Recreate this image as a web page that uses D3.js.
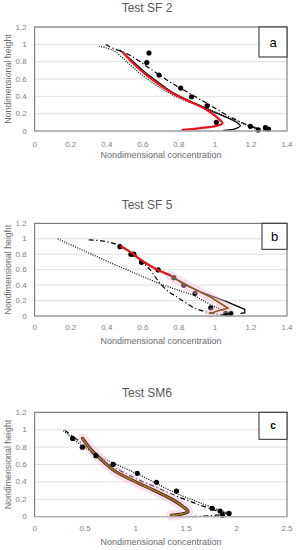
<!DOCTYPE html>
<html>
<head>
<meta charset="utf-8">
<script src="https://cdn.jsdelivr.net/npm/d3@7"></script>
<style>
  html, body { margin: 0; padding: 0; background: #fff; }
  svg { display: block; font-family: "Liberation Sans", Arial, sans-serif; }
</style>
</head>
<body>
<div id="chart"></div>
<script>
// ---- data ----
const yTicks = [0, 0.2, 0.4, 0.6, 0.8, 1, 1.2];
const xTicksSF = [0, 0.2, 0.4, 0.6, 0.8, 1, 1.2, 1.4];
const xTicksSM = [0, 0.5, 1, 1.5, 2, 2.5];

// Test SF 2
const sf2Dots = [[0.634, 0.9], [0.622, 0.79], [0.69, 0.645], [0.81, 0.495], [0.87, 0.395],
  [0.957, 0.29], [1.008, 0.1], [1.197, 0.054], [1.24, 0.012], [1.28, 0.04], [1.297, 0.022]];
const sf2Red = [[0.491, 0.905], [0.547, 0.778], [0.621, 0.644], [0.695, 0.529], [0.768, 0.433],
  [0.842, 0.356], [0.916, 0.287], [0.971, 0.222], [1.018, 0.146], [1.042, 0.09], [1.005, 0.058],
  [0.93, 0.036], [0.82, 0.012]];
const sf2Black = [[0.473, 0.932], [0.547, 0.798], [0.621, 0.663], [0.695, 0.548], [0.768, 0.441],
  [0.842, 0.364], [0.916, 0.295], [0.99, 0.222], [1.064, 0.157], [1.119, 0.1], [1.141, 0.06],
  [1.115, 0.027], [1.08, 0.012], [1.049, 0.008]];
const sf2Dotted = [[0.356, 0.978], [0.436, 0.93], [0.51, 0.8], [0.584, 0.665], [0.658, 0.55],
  [0.731, 0.455], [0.805, 0.376], [0.879, 0.318], [0.953, 0.261], [1.027, 0.2], [1.1, 0.134],
  [1.174, 0.069], [1.23, 0.02]];
const sf2DashDot = [[0.395, 0.997], [0.417, 0.97], [0.528, 0.874], [0.639, 0.721], [0.75, 0.567],
  [0.861, 0.433], [0.972, 0.299], [1.082, 0.165], [1.193, 0.06], [1.286, 0.0]];

// Test SF 5
const sf5Dots = [[0.473, 0.898], [0.534, 0.798], [0.55, 0.8], [0.593, 0.695], [0.685, 0.596],
  [0.772, 0.496], [0.827, 0.397], [0.89, 0.293], [0.977, 0.104], [1.06, 0.035], [1.088, 0.035]];
const sf5Red = [[0.48, 0.9], [0.53, 0.83], [0.57, 0.76], [0.62, 0.68], [0.68, 0.6], [0.75, 0.53]];
const sf5Brown = [[0.75, 0.53], [0.79, 0.47], [0.879, 0.358], [0.972, 0.25], [1.045, 0.142],
  [1.073, 0.1], [1.027, 0.075], [0.99, 0.045], [0.97, 0.035]];
const sf5Black = [[0.48, 0.9], [0.55, 0.8], [0.6, 0.7], [0.68, 0.6], [0.77, 0.5], [0.82, 0.42],
  [0.917, 0.315], [1.064, 0.185], [1.166, 0.087], [1.166, 0.042], [1.145, 0.033]];
const sf5Dotted = [[0.127, 1.0], [0.4, 0.71], [0.7, 0.41], [0.88, 0.27], [0.99, 0.13], [1.05, 0.07]];
const sf5DashDot = [[0.3, 0.985], [0.38, 0.97], [0.45, 0.93], [0.52, 0.85], [0.58, 0.73],
  [0.64, 0.6], [0.68, 0.47], [0.73, 0.34], [0.8, 0.23], [0.9, 0.09], [1.0, 0.03], [1.08, 0.0]];

// Test SM6
const sm6Dots = [[0.376, 0.9], [0.472, 0.798], [0.607, 0.702], [0.778, 0.602], [1.016, 0.498],
  [1.207, 0.395], [1.405, 0.295], [1.758, 0.096], [1.837, 0.065], [1.86, 0.019], [1.926, 0.038]];
const sm6Brown = [[0.475, 0.9], [0.547, 0.786], [0.646, 0.671], [0.778, 0.537], [0.976, 0.414],
  [1.174, 0.307], [1.372, 0.192], [1.471, 0.115], [1.52, 0.058], [1.438, 0.027], [1.355, 0.015]];
const sm6Dotted = [[0.284, 0.989], [0.482, 0.805], [0.646, 0.69], [1.042, 0.479], [1.405, 0.268],
  [1.768, 0.104], [1.933, 0.038]];
const sm6DashDot = [[0.3, 0.99], [0.45, 0.86], [0.6, 0.7], [0.8, 0.56], [1.0, 0.44], [1.2, 0.34],
  [1.4, 0.24], [1.6, 0.15], [1.8, 0.07], [1.9, 0.035], [1.75, 0.012], [1.5, 0.0]];

const W = 297, H = 550;
const svg = d3.select("#chart").append("svg").attr("width", W).attr("height", H);

const panels = [
  { title: "Test SF 2", letter: "a", top: 27, bottom: 131, titleY: 8, xTickY: 144, xTitleY: 155,
    xMax: 1.4, xTicks: xTicksSF, box: [259, 27, 28, 30],
    series: [
      { data: sf2Dotted, stroke: "#000", width: 1.2, dash: "1,1.4" },
      { data: sf2DashDot, stroke: "#000", width: 1.2, dash: "5,2.5,1.2,2.5" },
      { data: sf2Black, stroke: "#000", width: 1.3 },
      { data: sf2Red, stroke: "#e8141c", width: 2.2 }
    ], dots: sf2Dots },
  { title: "Test SF 5", letter: "b", top: 223.3, bottom: 316, titleY: 205, xTickY: 327, xTitleY: 341,
    xMax: 1.4, xTicks: xTicksSF, box: [262, 223.3, 25, 26],
    series: [
      { data: sf5Dotted, stroke: "#000", width: 1.2, dash: "1,1.4", linear: true },
      { data: sf5DashDot, stroke: "#000", width: 1.2, dash: "5,2.5,1.2,2.5" },
      { data: sf5Black, stroke: "#000", width: 1.3, linear: true },
      { data: sf5Brown, stroke: "#f5b8d6", width: 9, opacity: 0.45, linear: true },
      { data: sf5Red, stroke: "#e8141c", width: 2.2 },
      { data: sf5Brown, stroke: "#8a5a1e", width: 1.6, linear: true }
    ], dots: sf5Dots, dotsUnderHaze: true },
  { title: "Test SM6", letter: "c", top: 412.3, bottom: 516.7, titleY: 393, xTickY: 528.5, xTitleY: 542,
    xMax: 2.5, xTicks: xTicksSM, box: [259, 412.3, 28, 27],
    series: [
      { data: sm6Dotted, stroke: "#000", width: 1.2, dash: "1,1.4" },
      { data: sm6DashDot, stroke: "#000", width: 1.2, dash: "5,2.5,1.2,2.5" },
      { data: sm6Brown, stroke: "#f5b8d6", width: 10, opacity: 0.45 },
      { data: sm6Brown, stroke: "#3a2410", width: 3.2 },
      { data: sm6Brown, stroke: "#a8702e", width: 1.8 }
    ], dots: sm6Dots }
];

const left = 34.7, right = 287;

panels.forEach(p => {
  const g = svg.append("g");
  const x = d3.scaleLinear().domain([0, p.xMax]).range([left, right]);
  const y = d3.scaleLinear().domain([0, 1.2]).range([p.bottom, p.top]);

  // title
  g.append("text").attr("x", 147).attr("y", p.titleY).attr("text-anchor", "middle")
    .attr("dominant-baseline", "central").attr("font-size", 12).attr("fill", "#595959")
    .text(p.title);

  // gridlines
  g.append("g").selectAll("line").data(yTicks).enter().append("line")
    .attr("x1", left).attr("x2", right)
    .attr("y1", d => y(d)).attr("y2", d => y(d))
    .attr("stroke", "#d9d9d9").attr("stroke-width", 0.8);

  // y tick labels
  g.append("g").selectAll("text").data(yTicks).enter().append("text")
    .attr("x", 26.7).attr("y", d => y(d)).attr("text-anchor", "end")
    .attr("dominant-baseline", "central").attr("font-size", 8).attr("fill", "#7f7f7f")
    .text(d => d);

  // x tick labels
  g.append("g").selectAll("text").data(p.xTicks).enter().append("text")
    .attr("x", d => x(d)).attr("y", p.xTickY).attr("text-anchor", "middle")
    .attr("dominant-baseline", "central").attr("font-size", 8).attr("fill", "#7f7f7f")
    .text(d => d);

  // axis titles
  g.append("text").attr("x", 161).attr("y", p.xTitleY).attr("text-anchor", "middle")
    .attr("dominant-baseline", "central").attr("font-size", 9).attr("fill", "#6a6a6a")
    .text("Nondimensional concentration");
  g.append("text").attr("transform", `translate(8.3,${(p.top + p.bottom) / 2}) rotate(-90)`)
    .attr("text-anchor", "middle").attr("dominant-baseline", "central")
    .attr("font-size", 8.8).attr("fill", "#6a6a6a").text("Nondimensional height");

  const dotLayer = () => g.append("g").selectAll("circle").data(p.dots).enter().append("circle")
    .attr("cx", d => x(d[0])).attr("cy", d => y(d[1])).attr("r", 2.6).attr("fill", "#000");

  if (p.dotsUnderHaze) dotLayer();

  // series
  p.series.forEach(s => {
    const line = d3.line().x(d => x(d[0])).y(d => y(d[1]))
      .curve(s.linear ? d3.curveLinear : d3.curveCatmullRom.alpha(0.5));
    g.append("path").datum(s.data).attr("d", line)
      .attr("fill", "none").attr("stroke", s.stroke).attr("stroke-width", s.width)
      .attr("stroke-dasharray", s.dash || null).attr("stroke-opacity", s.opacity || 1)
      .attr("stroke-linejoin", "round").attr("stroke-linecap", s.dash ? "butt" : "round");
  });

  if (!p.dotsUnderHaze) dotLayer();

  // plot frame
  g.append("rect").attr("x", left).attr("y", p.top).attr("width", right - left)
    .attr("height", p.bottom - p.top).attr("fill", "none")
    .attr("stroke", "#595959").attr("stroke-width", 0.9);
  g.append("line").attr("x1", left).attr("x2", right).attr("y1", p.bottom).attr("y2", p.bottom)
    .attr("stroke", "#bfbfbf").attr("stroke-width", 1);

  // panel letter box
  const [bx, by, bw, bh] = p.box;
  g.append("rect").attr("x", bx).attr("y", by).attr("width", bw).attr("height", bh)
    .attr("fill", "#fff").attr("stroke", "#262626").attr("stroke-width", 1);
  g.append("text").attr("x", bx + bw / 2).attr("y", by + bh / 2)
    .attr("text-anchor", "middle").attr("dominant-baseline", "central")
    .attr("font-size", p.letter === "c" ? 10 : 13).attr("font-weight", p.letter === "c" ? "bold" : "normal")
    .attr("fill", "#000").text(p.letter);
});
</script>
</body>
</html>
